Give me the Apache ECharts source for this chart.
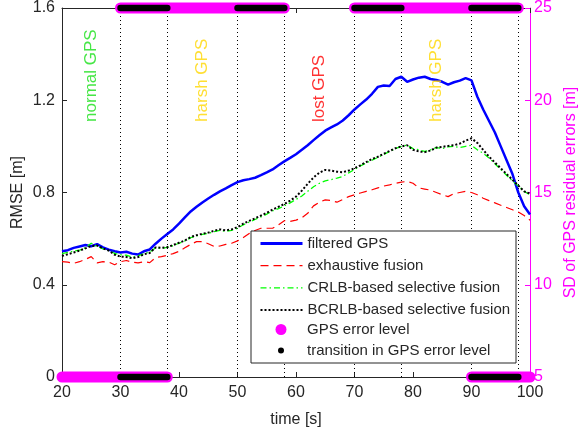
<!DOCTYPE html>
<html>
<head>
<meta charset="utf-8">
<script src="https://cdn.jsdelivr.net/npm/echarts@6/dist/echarts.min.js"></script>
<style>
  html, body { margin: 0; padding: 0; background: #fff; }
  #chart { width: 582px; height: 434px; }
</style>
</head>
<body>
<div id="chart"></div>
<script>
// time grid, 1 s steps from 20 s to 100 s
var timeS = [];
for (var t = 20; t <= 100; t++) timeS.push(t);

// RMSE [m], one value per second
var filteredGps = [
  0.545, 0.55, 0.56, 0.566, 0.572, 0.567, 0.576, 0.562, 0.552, 0.545,
  0.54, 0.543, 0.535, 0.531, 0.545, 0.553, 0.578, 0.6, 0.62, 0.64,
  0.665, 0.692, 0.718, 0.738, 0.757, 0.774, 0.79, 0.805, 0.818, 0.832,
  0.845, 0.853, 0.858, 0.864, 0.875, 0.887, 0.9, 0.918, 0.935, 0.95,
  0.966, 0.985, 1.005, 1.027, 1.048, 1.068, 1.082, 1.095, 1.112, 1.135,
  1.16, 1.182, 1.203, 1.228, 1.258, 1.264, 1.262, 1.292, 1.302, 1.28,
  1.29, 1.298, 1.302, 1.292, 1.288, 1.28, 1.268, 1.278, 1.285, 1.296,
  1.286, 1.215, 1.16, 1.11, 1.06, 1.0, 0.94, 0.88, 0.8, 0.74, 0.705
];
var exhaustiveFusion = [
  0.5, 0.498, 0.493, 0.5, 0.51, 0.522, 0.495, 0.5, 0.498, 0.487,
  0.5, 0.505, 0.498, 0.495, 0.5, 0.496, 0.518, 0.522, 0.528, 0.535,
  0.545, 0.56, 0.575, 0.587, 0.587, 0.578, 0.566, 0.568, 0.575, 0.58,
  0.59, 0.605, 0.622, 0.635, 0.645, 0.645, 0.645, 0.66, 0.678, 0.675,
  0.68, 0.69, 0.71, 0.742, 0.758, 0.768, 0.765, 0.758, 0.77, 0.782,
  0.79, 0.798, 0.805, 0.812, 0.82, 0.828, 0.833, 0.84, 0.845, 0.848,
  0.84, 0.82, 0.815, 0.81, 0.8, 0.79, 0.782, 0.795, 0.8, 0.805,
  0.8, 0.79, 0.775, 0.765, 0.755, 0.745, 0.735, 0.725, 0.715, 0.7, 0.68
];
var crlbFusion = [
  0.535, 0.54, 0.546, 0.55, 0.56, 0.58, 0.566, 0.556, 0.548, 0.536,
  0.53, 0.528, 0.52, 0.525, 0.535, 0.542, 0.56, 0.558, 0.562, 0.57,
  0.58, 0.59, 0.604, 0.612, 0.618, 0.623, 0.63, 0.636, 0.632, 0.636,
  0.645, 0.66, 0.672, 0.683, 0.694, 0.706, 0.72, 0.73, 0.742, 0.755,
  0.77, 0.785, 0.805, 0.825, 0.84, 0.85, 0.856, 0.862, 0.87, 0.885,
  0.9, 0.915, 0.928, 0.94, 0.952, 0.965, 0.978, 0.99, 1.0, 1.005,
  0.99, 0.985, 0.978, 0.985, 0.995, 0.99, 0.998, 1.0, 0.995, 1.0,
  1.005, 0.985, 0.97, 0.95, 0.925, 0.9, 0.875, 0.85, 0.828, 0.805, 0.79
];
var bcrlbFusion = [
  0.525, 0.532, 0.54, 0.548, 0.558, 0.568, 0.57, 0.558, 0.548, 0.53,
  0.522, 0.52, 0.515, 0.52, 0.532, 0.538, 0.562, 0.56, 0.563, 0.572,
  0.582, 0.592, 0.607, 0.615, 0.621, 0.626, 0.634, 0.64, 0.636, 0.64,
  0.65, 0.665, 0.677, 0.688, 0.7, 0.712, 0.726, 0.738, 0.75, 0.765,
  0.782, 0.808, 0.838, 0.865, 0.886, 0.898, 0.895, 0.89, 0.888, 0.895,
  0.905, 0.918, 0.932, 0.945, 0.955, 0.968, 0.98, 0.992, 1.0, 1.005,
  0.985, 0.978, 0.975, 0.982, 0.995, 0.998, 1.002, 1.005, 1.012, 1.025,
  1.035, 1.015, 0.985, 0.955, 0.93, 0.905, 0.88, 0.855, 0.83, 0.805, 0.795
];

// GPS error level (right axis, SD in m) as runs of time
var levelStart = [20, 30, 70, 90];
var levelEnd = [38, 58, 98, 100];
var levelSD = [5, 25, 25, 5];
var transStart = [30, 30, 50, 70, 90, 90];
var transEnd = [38, 38, 58, 78, 98, 98];
var transSD = [5, 25, 25, 25, 25, 5];

// phase borders and phase captions
var phaseBorders = [30, 38, 50, 58, 70, 78, 90, 98];
var phaseNames = ['normal GPS', 'harsh GPS', 'lost GPS', 'harsh GPS'];
var phaseMid = [25, 44, 64, 84];
var phaseColors = ['#18e018', '#ffd700', '#ff0000', '#ffd700'];
var captionBase = 1.106;

function pairs(ys) {
  var out = [];
  for (var i = 0; i < timeS.length; i++) out.push([timeS[i], ys[i]]);
  return out;
}
function runs(starts, ends, levels) {
  var out = [];
  for (var i = 0; i < starts.length; i++) {
    if (i > 0) out.push('-');
    out.push([starts[i], levels[i]]);
    out.push([ends[i], levels[i]]);
  }
  return out;
}

var font = 'Liberation Sans, Arial, Helvetica, sans-serif';
var ink = '#262626';
var magenta = '#ff00ff';

var captions = [];
for (var i = 0; i < phaseNames.length; i++) {
  captions.push({
    value: [phaseMid[i], captionBase],
    name: phaseNames[i],
    label: { color: phaseColors[i] }
  });
}
var borders = [];
for (var i = 0; i < phaseBorders.length; i++) borders.push({ xAxis: phaseBorders[i] });

var chart = echarts.init(document.getElementById('chart'), null, { renderer: 'canvas' });

var option = {
  animation: false,
  backgroundColor: '#fff',
  textStyle: { fontFamily: font },
  grid: { left: 62, right: 52, top: 8, bottom: 57, containLabel: false, outerBoundsMode: 'none' },
  xAxis: [{
    type: 'value', min: 20, max: 100, interval: 10, position: 'bottom',
    name: 'time [s]', nameLocation: 'middle', nameGap: 35, nameMoveOverlap: false,
    nameTextStyle: { fontSize: 16, color: ink, fontFamily: font },
    axisLine: { onZero: false, lineStyle: { color: ink, width: 1 } },
    axisTick: { inside: true, length: 5, lineStyle: { color: ink } },
    axisLabel: { fontSize: 16, color: ink, margin: 8, fontFamily: font },
    splitLine: { show: false }
  }, {
    type: 'value', min: 20, max: 100, interval: 10, position: 'top',
    axisLine: { onZero: false, lineStyle: { color: ink, width: 1 } },
    axisTick: { inside: true, length: 5, lineStyle: { color: ink } },
    axisLabel: { show: false },
    splitLine: { show: false }
  }],
  yAxis: [{
    type: 'value', min: 0, max: 1.6, interval: 0.4, position: 'left',
    name: 'RMSE [m]', nameLocation: 'middle', nameGap: 36, nameRotate: 90, nameMoveOverlap: false,
    nameTextStyle: { fontSize: 16, color: ink, fontFamily: font },
    axisLine: { show: true, onZero: false, lineStyle: { color: ink, width: 1 } },
    axisTick: { show: true, inside: true, length: 5, lineStyle: { color: ink } },
    axisLabel: { fontSize: 16, color: ink, margin: 7, fontFamily: font },
    splitLine: { show: false }
  }, {
    type: 'value', min: 5, max: 25, interval: 5, position: 'right',
    name: 'SD of GPS residual errors [m]', nameLocation: 'middle', nameGap: 33, nameRotate: 90,
    nameMoveOverlap: false,
    nameTextStyle: { fontSize: 16, color: magenta, fontFamily: font },
    axisLine: { show: true, onZero: false, lineStyle: { color: magenta, width: 1 } },
    axisTick: { show: true, inside: true, length: 5, lineStyle: { color: magenta } },
    axisLabel: { fontSize: 16, color: magenta, margin: 4, fontFamily: font },
    splitLine: { show: false }
  }],
  legend: [{
    orient: 'vertical', left: 259, top: 236, padding: 0,
    itemWidth: 42, itemHeight: 14, itemGap: 7.2,
    selectedMode: false,
    itemStyle: { opacity: 0 },
    textStyle: { fontSize: 15, color: ink, lineHeight: 14, fontFamily: font },
    data: [
      { name: 'filtered GPS', lineStyle: { width: 3 } },
      { name: 'exhaustive fusion', lineStyle: { width: 1.3 } },
      { name: 'CRLB-based selective fusion', lineStyle: { width: 1.3 } },
      { name: 'BCRLB-based selective fusion', lineStyle: { width: 2 } }
    ]
  }, {
    orient: 'vertical', left: 275.5, top: 322, padding: 0,
    itemWidth: 42, itemHeight: 11, selectedMode: false,
    textStyle: { fontSize: 15, color: ink, lineHeight: 14, fontFamily: font },
    data: [{ name: 'GPS error level', icon: 'circle' }]
  }, {
    orient: 'vertical', left: 278, top: 343, padding: 0,
    itemWidth: 42, itemHeight: 6, selectedMode: false,
    textStyle: { fontSize: 15, color: ink, lineHeight: 14, fontFamily: font },
    data: [{ name: 'transition in GPS error level', icon: 'circle' }]
  }],
  graphic: [{
    type: 'rect', z: 3, silent: true,
    shape: { x: 251, y: 231, width: 265, height: 132 },
    style: { fill: '#fff', stroke: ink, lineWidth: 1 }
  }],
  series: [{
    name: 'phase borders', type: 'line', data: [], silent: true, z: 1,
    markLine: {
      silent: true, z: 1, symbol: ['none', 'none'], label: { show: false },
      lineStyle: { color: '#000', width: 1, type: [1, 3] },
      data: borders
    }
  }, {
    name: 'filtered GPS', type: 'line', showSymbol: false, symbol: 'none',
    data: pairs(filteredGps), z: 2,
    lineStyle: { color: '#0000ff', width: 2.5 }, itemStyle: { color: '#0000ff' }
  }, {
    name: 'exhaustive fusion', type: 'line', showSymbol: false, symbol: 'none',
    data: pairs(exhaustiveFusion), z: 2,
    lineStyle: { color: '#ff0000', width: 1.2, type: [8, 5] }, itemStyle: { color: '#ff0000' }
  }, {
    name: 'CRLB-based selective fusion', type: 'line', showSymbol: false, symbol: 'none',
    data: pairs(crlbFusion), z: 2,
    lineStyle: { color: '#00ff00', width: 1.3, type: [6, 3, 1.5, 3] }, itemStyle: { color: '#00ff00' }
  }, {
    name: 'BCRLB-based selective fusion', type: 'line', showSymbol: false, symbol: 'none',
    data: pairs(bcrlbFusion), z: 2,
    lineStyle: { color: '#000000', width: 2, type: [2, 2] }, itemStyle: { color: '#000000' }
  }, {
    name: 'GPS error level', type: 'line', yAxisIndex: 1, symbol: 'none', clip: false,
    data: runs(levelStart, levelEnd, levelSD), z: 6,
    lineStyle: { color: magenta, width: 11, cap: 'round' }, itemStyle: { color: magenta }
  }, {
    name: 'transition in GPS error level', type: 'line', yAxisIndex: 1, symbol: 'none', clip: false,
    data: runs(transStart, transEnd, transSD), z: 7,
    lineStyle: { color: '#000', width: 6.5, cap: 'round' }, itemStyle: { color: '#000' }
  }, {
    name: 'phase captions', type: 'scatter', symbolSize: 0, z: 5, silent: true,
    data: captions,
    label: {
      show: true, position: 'inside', rotate: 90, align: 'left', verticalAlign: 'middle',
      fontSize: 17, fontFamily: font,
      formatter: function (p) { return p.name; }
    }
  }]
};
chart.setOption(option);
</script>
</body>
</html>
